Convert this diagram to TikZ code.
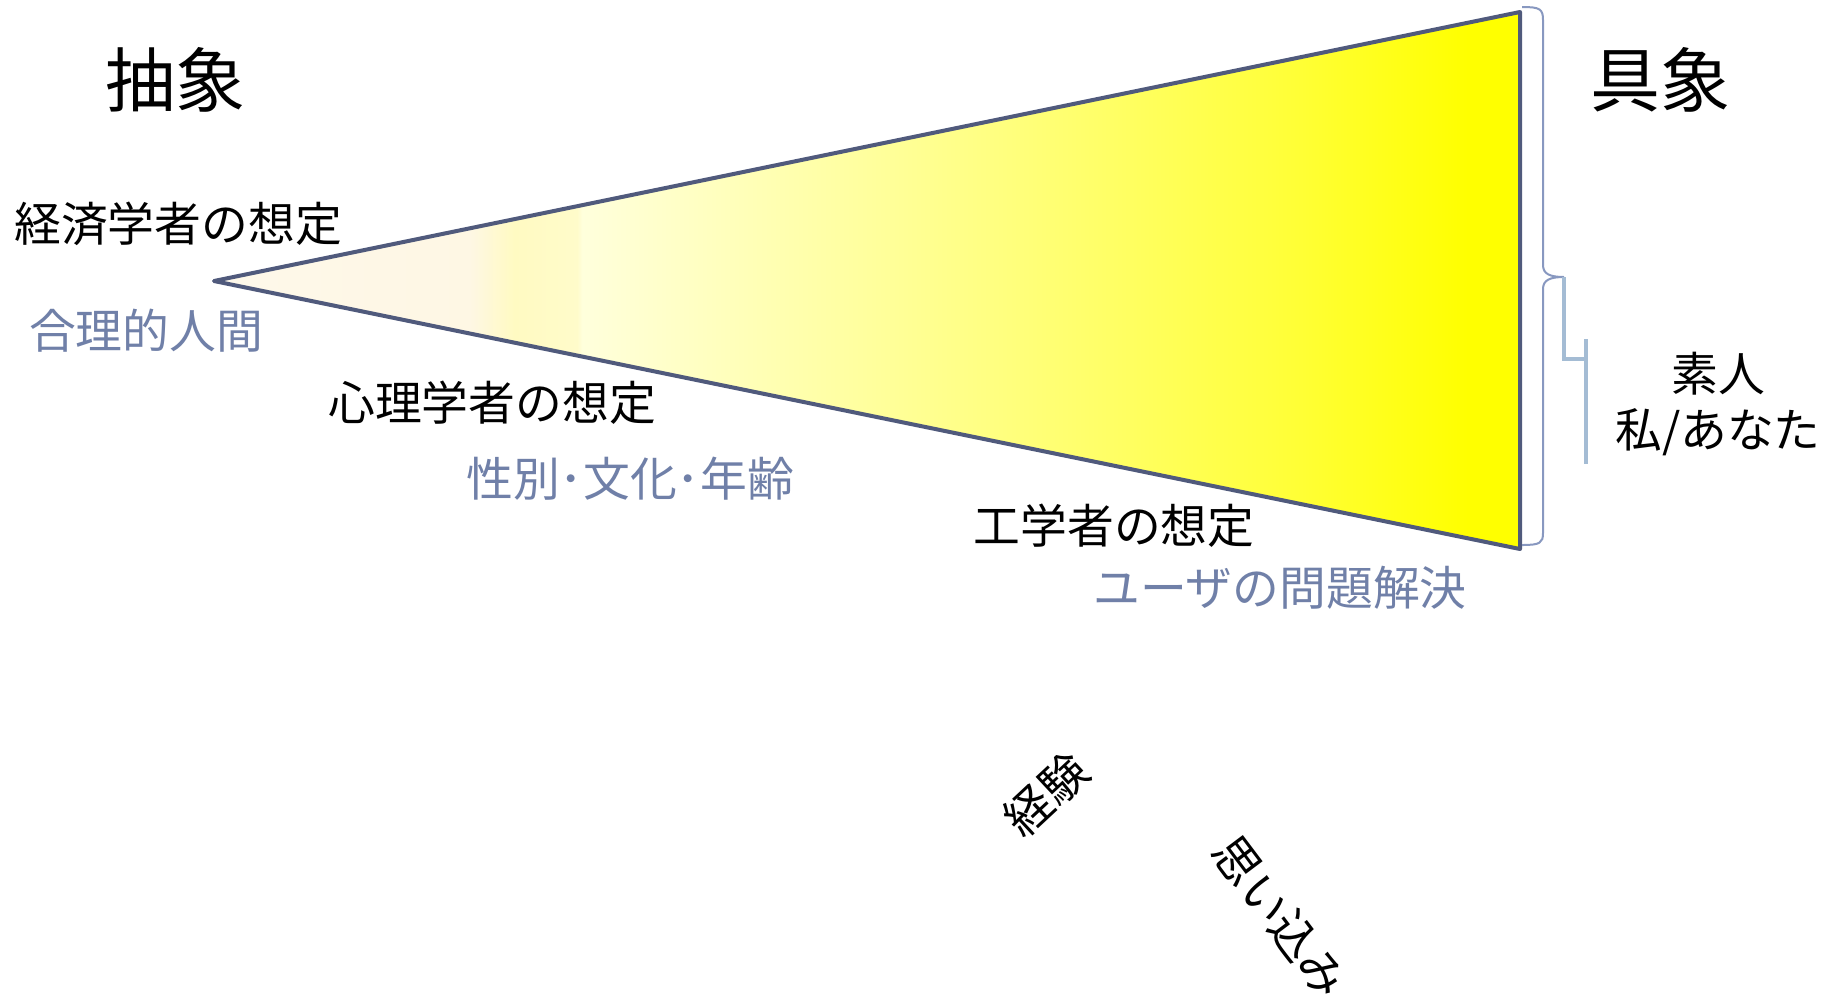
\documentclass[tikz,border=0pt]{standalone}
\usepackage{fontspec}
\setmainfont{Noto Sans CJK JP}
\definecolor{outl}{HTML}{505A7C}
\definecolor{bluet}{HTML}{7080A8}
\definecolor{bracec}{HTML}{8898C0}
\definecolor{lbc}{HTML}{A4BCD4}
\definecolor{c0}{HTML}{FEF8EA}
\definecolor{c1}{HTML}{FEF7E4}
\definecolor{c2}{HTML}{FFFAC2}
\definecolor{c3}{HTML}{FFFBCA}
\definecolor{c4}{HTML}{FFFFDC}
\definecolor{c5}{HTML}{FFFFC2}
\definecolor{c6}{HTML}{FFFF96}
\definecolor{c7}{HTML}{FFFF68}
\definecolor{c8}{HTML}{FFFF35}
\definecolor{c9}{HTML}{FFFF00}
\pgfdeclarehorizontalshading{trishade}{100bp}{color(0bp)=(c0); color(25bp)=(c0); color(34.8bp)=(c1); color(36.5bp)=(c2); color(38.9bp)=(c3); color(39.1bp)=(c4); color(43.6bp)=(c5); color(51.3bp)=(c6); color(58.9bp)=(c7); color(66.6bp)=(c8); color(73bp)=(c9); color(100bp)=(c9)}
\tikzset{
  bigtxt/.style={font=\fontsize{35}{40}\selectfont, inner sep=0pt},
  txt/.style={font=\fontsize{23.4}{28}\selectfont, inner sep=0pt},
  btxt/.style={txt, text=bluet},
  outline/.style={draw=outl, line width=2pt, line join=round},
  bracepath/.style={draw=bracec, line width=1pt},
  lbpath/.style={draw=lbc, line width=2pt}
}
\begin{document}
\begin{tikzpicture}[x=0.5pt, y=-0.5pt]
\useasboundingbox[fill=white] (0,0) rectangle (1833,998);
\coordinate (tip) at (214,281);
\coordinate (tr) at (1520,12);
\coordinate (br) at (1520,549);
\path[outline, shade, shading=trishade] (tip) -- (tr) -- (br) -- cycle;
% brace
\coordinate (bt) at (1522,7);
\coordinate (bm) at (1564,277);
\coordinate (bb) at (1522,545);
\draw[bracepath] (bt) .. controls (1540,7) and (1543,9) .. (1543,20) -- (1543,265)
  .. controls (1543,274) and (1550,277) .. (bm)
  .. controls (1550,277) and (1543,280) .. (1543,289) -- (1543,533)
  .. controls (1543,543) and (1540,545) .. (bb);
\coordinate (e1) at (1564,359);
\coordinate (e2) at (1586,359);
\coordinate (v1) at (1586,339);
\coordinate (v2) at (1586,464);
\draw[lbpath] (bm) -- (e1) -- (e2);
\draw[lbpath] (v1) -- (v2);
% texts
\node[bigtxt] (abs) at (175,80) {抽象};
\node[bigtxt] (con) at (1660,80) {具象};
\node[txt] (eco) at (178,224) {経済学者の想定};
\node[btxt] (rat) at (146,331) {合理的人間};
\node[txt] (psy) at (492,403) {心理学者の想定};
\node[btxt] (gen) at (630,479) {性別･文化･年齢};
\node[txt] (eng) at (1114,526) {工学者の想定};
\node[btxt] (usr) at (1280,588) {ユーザの問題解決};
\node[txt, align=center] (lay) at (1718,404) {素人\\私/あなた};
\node[txt, rotate=43] (exp) at (1046,795) {経験};
\node[txt, rotate=-53] (ass) at (1280,917) {思い込み};
\end{tikzpicture}
\end{document}
